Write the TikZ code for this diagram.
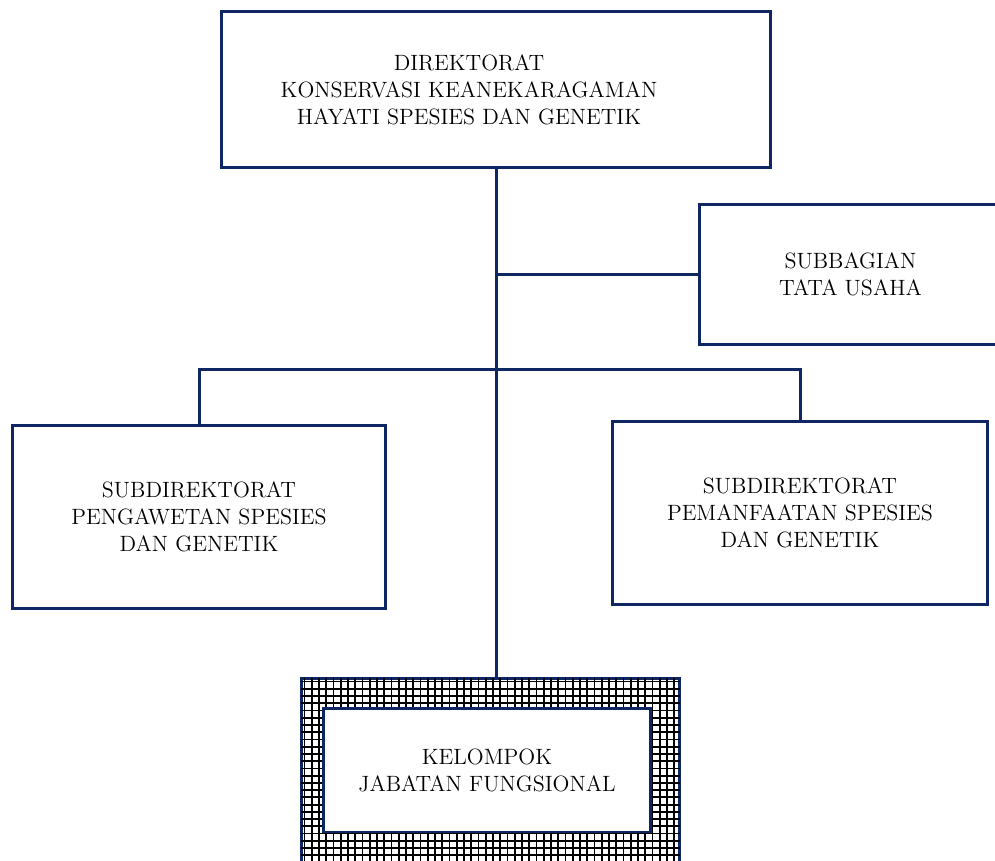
\documentclass[tikz,border=0pt]{standalone}
\usetikzlibrary{positioning}
\definecolor{navy}{RGB}{14,38,98}
\tikzset{
  box/.style={draw=navy,line width=0.06cm,fill=white,align=center,inner sep=0pt,
    font=\fontsize{12.6}{15.3}\selectfont},
  link/.style={draw=navy,line width=0.06cm},
}
\begin{document}
\begin{tikzpicture}[x=0.02cm,y=-0.02cm]
\clip (0,0) rectangle (995,860);
%boxes
\node[box,minimum width=11cm,minimum height=3.14cm,
  label={[align=center,font=\fontsize{12.6}{15.3}\selectfont,xshift=-0.54cm]center:DIREKTORAT\\KONSERVASI KEANEKARAGAMAN\\HAYATI SPESIES DAN GENETIK}]
  (dir) at (496,89.5) {};
\node[box,minimum width=6.06cm,minimum height=2.82cm] (tu) at (850.5,274.5) {SUBBAGIAN\\TATA USAHA};
\node[box,minimum width=7.48cm,minimum height=3.68cm] (pgw) at (199,517) {SUBDIREKTORAT\\PENGAWETAN SPESIES\\DAN GENETIK};
\node[box,minimum width=7.52cm,minimum height=3.68cm] (pmf) at (800,513) {SUBDIREKTORAT\\PEMANFAATAN SPESIES\\DAN GENETIK};
\node[box,minimum width=7.58cm,minimum height=4.24cm] (kel) at (490.5,784) {};
%grid
\begin{scope}
\clip ([shift={(0.03cm,-0.03cm)}]kel.north west) rectangle ([shift={(-0.03cm,0.03cm)}]kel.south east);
\draw[black,line width=1pt,step=0.145cm] (kel.north west) grid (kel.south east);
\end{scope}
\node[box,minimum width=6.56cm,minimum height=2.48cm] (jf) at (487,770) {KELOMPOK\\JABATAN FUNGSIONAL};
%lines
\coordinate (tuj) at (dir.south |- tu.west);
\coordinate (bar) at (dir.south |- 0,369);
\draw[link] (dir.south) -- (dir.south |- kel.north);
\draw[link] (tuj) -- (tu.west);
\draw[link] (pgw.north) |- (bar) -| (pmf.north);
\end{tikzpicture}
\end{document}
